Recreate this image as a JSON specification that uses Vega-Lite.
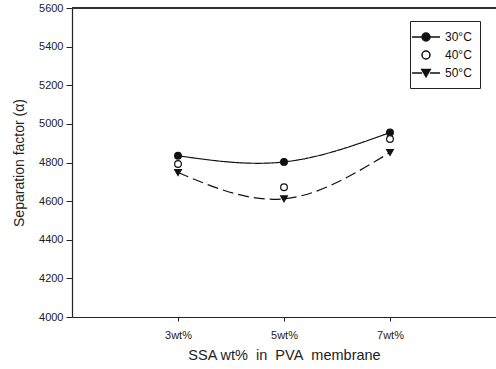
{
  "$schema": "https://vega.github.io/schema/vega-lite/v6.json",
  "width": 424,
  "height": 309,
  "autosize": {"type": "none"},
  "padding": {"left": 72, "top": 8, "right": 0, "bottom": 52},
  "background": "white",
  "config": {
    "view": {"stroke": null},
    "font": "Liberation Sans",
    "axis": {"grid": false, "domainColor": "#222", "tickColor": "#222", "labelColor": "#222", "titleColor": "#222", "labelFont": "Liberation Sans", "titleFont": "Liberation Sans", "titleFontWeight": "normal"},
    "axisY": {"values": [4000, 4200, 4400, 4600, 4800, 5000, 5200, 5400, 5600], "format": "d", "labelOverlap": false, "labelFontSize": 11, "tickSize": 6, "labelPadding": 3, "titleFontSize": 14, "titlePadding": 12, "domainWidth": 1.2},
    "axisX": {"labelFontSize": 11, "tickSize": 4, "labelPadding": 8, "titleFontSize": 14.5, "titlePadding": 8, "domainWidth": 1.2}
  },
  "data": {
    "values": [
      {"ssa": 3, "temp": "30°C", "sf": 4835},
      {"ssa": 5, "temp": "30°C", "sf": 4803},
      {"ssa": 7, "temp": "30°C", "sf": 4955},
      {"ssa": 3, "temp": "40°C", "sf": 4792},
      {"ssa": 5, "temp": "40°C", "sf": 4672},
      {"ssa": 7, "temp": "40°C", "sf": 4922},
      {"ssa": 3, "temp": "50°C", "sf": 4748},
      {"ssa": 5, "temp": "50°C", "sf": 4612},
      {"ssa": 7, "temp": "50°C", "sf": 4852}
    ]
  },
  "resolve": {"scale": {"shape": "independent", "fill": "independent"}, "legend": {"shape": "independent", "fill": "independent"}},
  "layer": [
    {
      "transform": [{"filter": "datum.temp != '40°C'"}],
      "mark": {"type": "line", "interpolate": "natural", "color": "#111", "strokeWidth": 1.2},
      "encoding": {
        "x": {"field": "ssa", "type": "quantitative", "scale": {"domain": [1, 9], "nice": false, "zero": false}, "axis": {"values": [3, 5, 7], "labelExpr": "datum.value + 'wt%'", "title": "SSA wt%\u00a0\u00a0in\u00a0\u00a0PVA\u00a0\u00a0membrane"}},
        "y": {"field": "sf", "type": "quantitative", "scale": {"domain": [4000, 5600], "nice": false, "zero": false}, "axis": {"title": "Separation factor (α)"}},
        "detail": {"field": "temp"},
        "strokeDash": {"field": "temp", "type": "nominal", "scale": {"domain": ["30°C", "50°C"], "range": [[1, 0], [11, 5]]}, "legend": null}
      }
    },
    {
      "mark": {"type": "point", "filled": false, "stroke": "#111", "strokeWidth": 1.2, "size": 45, "opacity": 1},
      "encoding": {
        "x": {"field": "ssa", "type": "quantitative"},
        "y": {"field": "sf", "type": "quantitative"},
        "shape": {"field": "temp", "type": "nominal", "scale": {"domain": ["30°C", "40°C", "50°C"], "range": ["circle", "circle", "triangle-down"]}, "legend": null},
        "fill": {"field": "temp", "type": "nominal", "scale": {"domain": ["30°C", "40°C", "50°C"], "range": ["#111", "white", "#111"]}, "legend": null}
      }
    },
    {
      "mark": {"type": "rule", "color": "#333", "strokeWidth": 1},
      "encoding": {"y": {"datum": 5600, "type": "quantitative"}}
    },
    {
      "transform": [{"filter": "false"}],
      "mark": {"type": "point", "filled": false, "stroke": "#111", "strokeWidth": 1.2, "opacity": 1},
      "encoding": {
        "x": {"field": "ssa", "type": "quantitative"},
        "y": {"field": "sf", "type": "quantitative"},
        "shape": {"field": "temp", "type": "nominal",
          "scale": {"domain": ["30°C", "40°C", "50°C"], "range": [
            "M-2,0L-0.57,0M0.57,0L2,0M-0.57,0A0.57,0.57 0 1,1 0.57,0A0.57,0.57 0 1,1 -0.57,0Z",
            "M-0.57,0A0.57,0.57 0 1,1 0.57,0A0.57,0.57 0 1,1 -0.57,0Z",
            "M-2,0L-0.57,0M0.57,0L2,0M-0.6,-0.5L0.6,-0.5L0,0.55Z"
          ]},
          "legend": {
            "title": null, "orient": "none", "legendX": 338, "legendY": 13,
            "strokeColor": "#222", "padding": 8, "symbolSize": 196, "labelFontSize": 12, "labelColor": "#111", "rowPadding": 3, "labelOffset": 11
          }
        },
        "fill": {"field": "temp", "type": "nominal", "scale": {"domain": ["30°C", "40°C", "50°C"], "range": ["#111", "white", "#111"]}}
      }
    }
  ]
}
